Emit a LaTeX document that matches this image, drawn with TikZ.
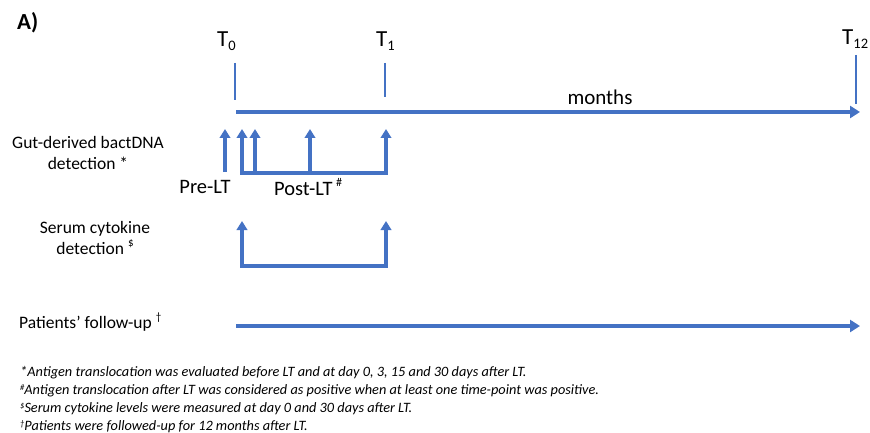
\documentclass[tikz,border=0pt]{standalone}
\usepackage{fontspec}
\setmainfont{Carlito}
\usetikzlibrary{arrows.meta}
\definecolor{tlblue}{HTML}{4472C4}

\begin{document}
\begin{tikzpicture}[x=1pt,y=-1pt,
  axis/.style={draw=tlblue,line width=4pt,-{Triangle[width=12pt,length=10pt]}},
  tickmark/.style={draw=tlblue,line width=2pt},
  probe/.style={draw=tlblue,line width=3.3pt,-{Triangle[width=10.5pt,length=9pt]}},
  probepair/.style={draw=tlblue,line width=3.3pt,{Triangle[width=10.5pt,length=9pt]}-{Triangle[width=10.5pt,length=9pt]}},
  lbl/.style={font=\fontsize{17.5}{20}\selectfont,align=center,inner sep=0pt},
  phase/.style={font=\fontsize{20.5}{22}\selectfont,inner sep=0pt},
  tlabel/.style={font=\fontsize{23}{24}\selectfont,inner sep=0pt,anchor=base west},
  note/.style={font=\fontsize{14.3}{16}\selectfont\itshape,inner sep=0pt,anchor=west}]
\useasboundingbox (0,0) rectangle (870,433);

% panel tag
\node[font=\fontsize{23}{24}\selectfont\bfseries,inner sep=0pt,anchor=west] (tag) at (17,23) {A)};

% time points
\newcommand{\tsub}[1]{\raisebox{-0.35ex}{\fontsize{14.5}{14}\selectfont #1}}
\node[tlabel] (t0) at (217,47) {T\tsub{0}};
\node[tlabel] (t1) at (376,47) {T\tsub{1}};
\node[tlabel] (t12) at (842,45) {T\tsub{12}};

\coordinate (t0top) at (235,63);  \coordinate (t0bot) at (235,100);
\coordinate (t1top) at (385,63);  \coordinate (t1bot) at (385,97);
\coordinate (t12top) at (856,55); \coordinate (t12bot) at (856,104);
\draw[tickmark] (t0top) -- (t0bot);
\draw[tickmark] (t1top) -- (t1bot);
\draw[tickmark] (t12top) -- (t12bot);

% main time axis
\coordinate (axstart) at (236,112);
\coordinate (axend) at (860,112);
\draw[axis] (axstart) -- (axend);
\node[font=\fontsize{21}{22}\selectfont,inner sep=0pt] (months) at (600,97) {months};

% gut-derived bactDNA sampling
\node[lbl] (gutlbl) at (88,153) {Gut-derived bactDNA\\[1pt]detection *};
\coordinate (preB) at (225,172); \coordinate (preT) at (225,129);
\coordinate (d0B) at (242,173);  \coordinate (d0T) at (242,129);
\coordinate (d3B) at (255,173);  \coordinate (d3T) at (255,129);
\coordinate (d15B) at (310,173); \coordinate (d15T) at (310,129);
\coordinate (d30B) at (386,173); \coordinate (d30T) at (386,129);
\draw[probe] (preB) -- (preT);
\draw[probepair] (d0T) -- (d0B) -- (d30B) -- (d30T);
\draw[probe] (d3B) -- (d3T);
\draw[probe] (d15B) -- (d15T);
\node[phase] (pre) at (205,187) {Pre-LT};
\node[phase,anchor=west] (post) at (274,187) {Post-LT\,\raisebox{1.0ex}{\fontsize{12}{12}\selectfont\#}};

% serum cytokine sampling
\node[lbl] (serlbl) at (95,238) {Serum cytokine\\[1pt]detection \raisebox{0.9ex}{\fontsize{11}{11}\selectfont\$}};
\coordinate (s0T) at (242,221); \coordinate (s0B) at (242,266);
\coordinate (s30T) at (386,221); \coordinate (s30B) at (386,266);
\draw[probepair] (s0T) -- (s0B) -- (s30B) -- (s30T);

% follow-up
\node[lbl,anchor=west] (fulbl) at (19,322) {Patients’ follow-up \raisebox{0.9ex}{\fontsize{11}{11}\selectfont †}};
\coordinate (fustart) at (236,326);
\coordinate (fuend) at (860,326);
\draw[axis] (fustart) -- (fuend);

% footnotes
\node[note] (n1) at (20,373) {*Antigen translocation was evaluated before LT and at day 0, 3, 15 and 30 days after LT.};
\node[note] (n2) at (20,391) {\raisebox{0.6ex}{\fontsize{8.5}{8}\selectfont\#}Antigen translocation after LT was considered as positive when at least one time-point was positive.};
\node[note] (n3) at (20,409) {\raisebox{0.6ex}{\fontsize{8.5}{8}\selectfont\$}Serum cytokine levels were measured at day 0 and 30 days after LT.};
\node[note] (n4) at (20,427) {\raisebox{0.6ex}{\fontsize{8.5}{8}\selectfont†}Patients were followed-up for 12 months after LT.};
\end{tikzpicture}
\end{document}
